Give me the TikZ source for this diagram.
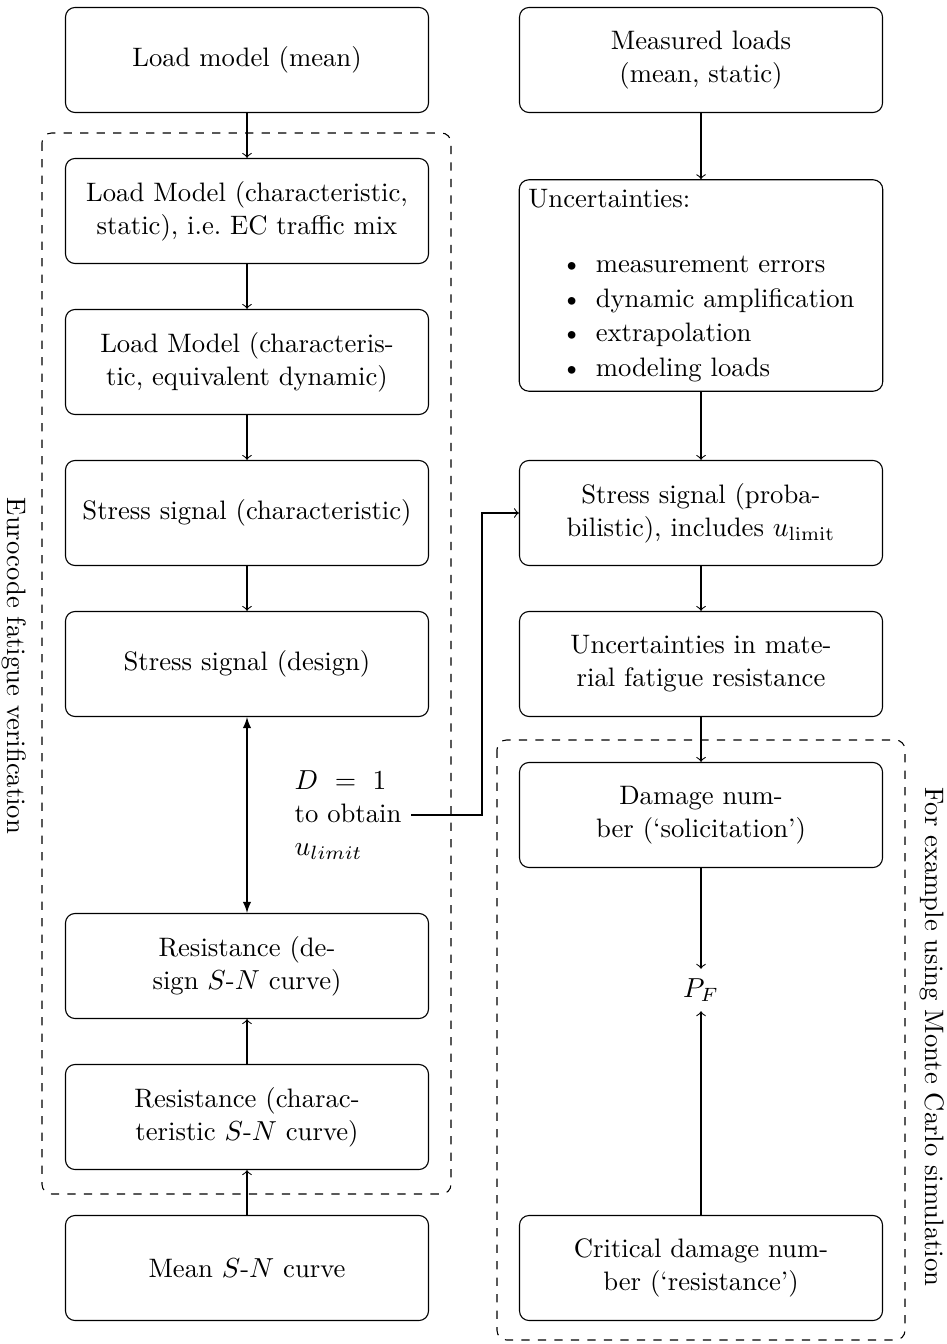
\documentclass[tikz,border=0pt]{standalone}
\usetikzlibrary{arrows}
\begin{document}
\begin{tikzpicture}[x=0.3636pt,y=-0.3636pt,
 every node/.style={font=\fontsize{9.7}{12}\selectfont},
 box/.style={draw, rounded corners=3.5pt, minimum width=132pt, minimum height=38.2pt, align=center, inner sep=3.33pt},
 grp/.style={draw, dashed, rounded corners=3.5pt},
 arr/.style={->},
 dbl/.style={latex-latex}]
\useasboundingbox (0,0) rectangle (947,1344);
% left column
\node[box] (lm) at (247,60) {Load model (mean)};
\node[box] (lc) at (247,211) {Load Model (characteristic,\\ static), i.e.\ EC traffic mix};
\node[box] (le) at (247,362) {Load Model (characteris-\\tic, equivalent dynamic)};
\node[box] (sc) at (247,513) {Stress signal (characteristic)};
\node[box] (sd) at (247,664) {Stress signal (design)};
\node[box] (rd) at (247,966) {Resistance (de-\\sign $S$-$N$ curve)};
\node[box] (rc) at (247,1117) {Resistance (charac-\\teristic $S$-$N$ curve)};
\node[box] (ms) at (247,1268) {Mean $S$-$N$ curve};
% right column
\node[box, minimum height=75.3pt, text width=125.5pt, align=left] (un) at (701,285.5) {Uncertainties:\\[11.8pt]
\makebox[24.5pt][r]{\textbullet\hspace{5pt}}measurement errors\\[0.6pt]
\makebox[24.5pt][r]{\textbullet\hspace{5pt}}dynamic amplification\\[0.6pt]
\makebox[24.5pt][r]{\textbullet\hspace{5pt}}extrapolation\\[0.6pt]
\makebox[24.5pt][r]{\textbullet\hspace{5pt}}modeling loads};
\node[box] (ml) at (701,60) {Measured loads\\(mean, static)};
\node[box] (sp) at (701,513) {Stress signal (proba-\\bilistic), includes $u_{\mathrm{limit}}$};
\node[box] (um) at (701,664) {Uncertainties in mate-\\rial fatigue resistance};
\node[box] (dn) at (701,815) {Damage num-\\ber (`solicitation')};
\node (pf) at (701,990) {$P_F$};
\node[box] (cd) at (701,1268) {Critical damage num-\\ber (`resistance')};
% D = 1 note
\node[align=left, anchor=west] (dt) at (285,815) {$D\ =\ 1$\\to obtain\\$u_{limit}$};
% groups
\draw[grp] (42,133) rectangle (451,1194);
\draw[grp] (497,740) rectangle (905,1340);
\node[rotate=-90] (lab1) at (14,666) {Eurocode fatigue verification};
\node[rotate=-90] (lab2) at (932,1037) {For example using Monte Carlo simulation};
% connectors
\draw[arr] (lm) -- (lc);
\draw[arr] (lc) -- (le);
\draw[arr] (le) -- (sc);
\draw[arr] (sc) -- (sd);
\draw[dbl] (sd) -- (rd);
\draw[arr] (rc) -- (rd);
\draw[arr] (ms) -- (rc);
\draw[arr] (ml) -- (un);
\draw[arr] (un) -- (sp);
\draw[arr] (sp) -- (um);
\draw[arr] (um) -- (dn);
\draw[arr] (dn) -- (pf);
\draw[arr] (cd) -- (pf);
\coordinate (jog) at (482,0);
\draw[arr] (dt.east) -- (dt.east -| jog) |- (sp.west);
\end{tikzpicture}
\end{document}
